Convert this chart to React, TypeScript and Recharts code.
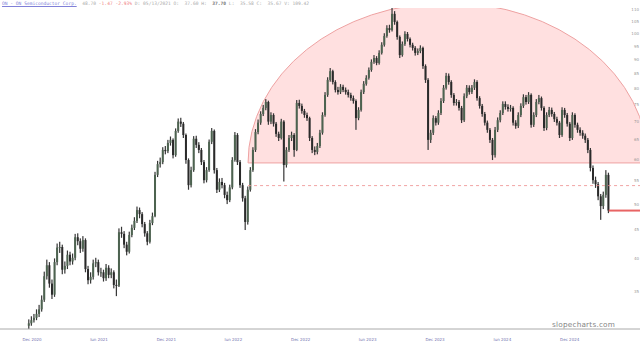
import { ComposedChart, Bar, XAxis, YAxis, ReferenceArea, ReferenceLine } from "recharts";

const DAY = 86400000;
const firstWeek = Date.parse("2020-11-23");
const firstOpen = 30.5;

// weekly candles
const closes = [
  30.8, 31.2, 31.5, 32.0, 32.6, 33.9, 37.3, 39.0, 36.2, 34.6,
  39.5, 41.9, 42.0, 38.3, 38.9, 40.7, 39.6, 40.2, 43.7, 43.0,
  41.7, 43.2, 38.4, 36.7, 37.2, 39.3, 39.5, 37.9, 37.9, 37.0,
  38.6, 37.5, 37.9, 36.0, 35.9, 44.6, 44.3, 42.4, 41.2, 44.1,
  45.4, 46.7, 48.8, 48.0, 46.1, 44.4, 42.9, 46.3, 47.6, 56.3,
  58.8, 59.3, 62.3, 62.0, 64.1, 64.9, 61.0, 67.3, 69.9, 69.3,
  66.2, 59.8, 54.0, 57.4, 65.2, 63.6, 62.3, 59.3, 55.1, 57.4,
  64.4, 67.3, 57.4, 53.0, 54.7, 54.0, 51.9, 50.8, 53.5, 59.8,
  66.2, 59.3, 54.0, 51.2, 46.5, 53.0, 57.4, 62.3, 67.0, 69.6,
  72.1, 73.9, 75.7, 69.9, 71.8, 69.3, 66.5, 65.4, 69.9, 58.6,
  62.3, 65.4, 66.2, 62.3, 75.4, 74.5, 73.0, 71.8, 70.9, 65.4,
  62.3, 61.8, 63.3, 66.8, 71.8, 77.9, 82.8, 85.8, 82.1, 79.5,
  78.8, 80.5, 79.5, 78.8, 77.9, 76.9, 76.0, 70.9, 73.3, 78.8,
  81.5, 83.5, 86.2, 89.1, 90.5, 88.7, 92.4, 95.5, 99.0, 102.2,
  101.4, 108.3, 104.8, 98.6, 91.6, 95.8, 99.8, 97.8, 95.5, 94.3,
  92.4, 93.1, 94.3, 87.6, 82.8, 64.9, 66.8, 70.9, 69.6, 72.4,
  76.0, 80.2, 84.2, 82.1, 77.9, 75.4, 75.7, 73.9, 70.3, 77.5,
  80.2, 78.8, 80.2, 82.1, 76.9, 74.5, 72.1, 69.6, 67.6, 64.9,
  61.0, 67.6, 70.3, 72.4, 75.1, 74.2, 73.6, 73.9, 69.6, 68.7,
  71.8, 74.5, 77.2, 75.7, 77.9, 69.0, 71.8, 75.7, 76.9, 73.9,
  68.1, 71.8, 73.3, 72.1, 70.6, 69.6, 66.2, 73.3, 71.8, 69.3,
  65.4, 71.8, 69.0, 67.6, 66.8, 66.0, 64.9, 62.3, 57.9, 55.1,
  54.2, 51.6, 49.6, 51.9, 56.3, 48.7,
];

const highs = [
  31.3, 31.7, 32.0, 32.6, 33.2, 34.5, 38.0, 39.9, 39.5, 36.8,
  40.1, 42.6, 42.9, 42.4, 39.6, 41.4, 41.2, 40.9, 44.3, 44.4,
  43.5, 43.9, 43.5, 38.9, 37.9, 39.9, 40.2, 39.9, 38.6, 38.3,
  39.2, 39.0, 38.5, 38.2, 36.8, 45.3, 45.6, 44.8, 42.9, 44.7,
  46.0, 47.4, 49.5, 49.3, 48.4, 46.5, 44.8, 46.9, 48.3, 57.0,
  59.6, 60.4, 63.0, 63.3, 64.9, 65.8, 65.3, 68.0, 70.8, 71.0,
  69.8, 66.6, 60.2, 58.2, 65.9, 66.0, 64.3, 62.8, 59.8, 58.1,
  65.0, 68.1, 67.7, 57.9, 55.5, 55.6, 54.5, 52.6, 54.1, 60.5,
  67.0, 66.7, 59.8, 54.5, 51.7, 53.7, 58.1, 63.0, 67.8, 70.5,
  72.9, 74.8, 76.6, 76.1, 72.6, 72.3, 69.8, 67.1, 70.7, 70.3,
  63.0, 66.2, 67.1, 66.7, 76.3, 76.4, 75.2, 73.6, 72.5, 71.3,
  65.9, 63.2, 64.1, 67.6, 72.6, 78.8, 83.7, 86.9, 86.3, 82.7,
  80.5, 81.4, 81.2, 80.3, 79.6, 78.6, 77.7, 76.5, 74.1, 79.6,
  82.4, 84.4, 87.1, 90.0, 91.6, 91.2, 93.4, 96.5, 100.1, 103.4,
  103.6, 111.0, 109.5, 105.4, 99.2, 96.8, 100.9, 100.6, 98.4, 96.3,
  95.0, 94.1, 95.3, 94.8, 88.2, 83.4, 67.6, 71.7, 71.5, 73.2,
  76.9, 81.1, 85.2, 85.0, 82.7, 78.5, 76.6, 76.3, 74.5, 78.4,
  81.1, 81.0, 81.1, 83.0, 82.7, 77.5, 75.1, 72.7, 70.2, 68.1,
  65.4, 68.4, 71.1, 73.2, 75.9, 75.9, 75.0, 74.8, 74.4, 70.3,
  72.6, 75.3, 78.1, 77.9, 78.8, 78.4, 72.6, 76.6, 77.9, 77.4,
  74.4, 72.6, 74.2, 74.0, 72.7, 71.3, 70.1, 74.1, 73.9, 72.4,
  69.8, 72.6, 72.3, 69.6, 68.3, 67.5, 66.6, 65.4, 62.8, 58.5,
  55.9, 54.7, 52.1, 52.6, 57.4, 56.8,
];

const lows = [
  30.1, 30.5, 30.9, 31.2, 31.6, 32.3, 33.6, 36.8, 35.6, 34.0,
  34.3, 39.0, 41.0, 37.6, 37.7, 38.4, 39.0, 39.1, 39.8, 42.3,
  41.0, 41.2, 37.9, 36.1, 36.2, 36.8, 38.7, 37.4, 37.2, 36.5,
  36.6, 37.0, 37.0, 35.5, 34.4, 35.7, 43.6, 41.8, 40.6, 40.9,
  43.7, 45.0, 46.3, 47.2, 45.5, 43.8, 42.3, 42.6, 45.9, 47.4,
  55.8, 58.0, 58.8, 61.2, 61.5, 63.4, 60.2, 60.6, 66.8, 68.4,
  65.4, 58.9, 53.0, 53.5, 57.0, 62.8, 61.5, 58.6, 54.4, 54.6,
  57.0, 63.8, 56.6, 52.3, 52.5, 53.3, 51.2, 50.0, 50.4, 53.1,
  59.4, 58.6, 53.4, 50.5, 45.0, 46.0, 52.6, 57.0, 61.8, 66.4,
  69.0, 71.5, 73.2, 69.0, 69.2, 68.5, 65.7, 64.6, 65.0, 54.8,
  58.0, 61.8, 64.6, 60.6, 62.0, 73.7, 72.2, 71.0, 70.1, 64.6,
  61.5, 61.0, 61.2, 62.8, 66.3, 71.3, 77.3, 82.2, 81.3, 78.7,
  78.0, 78.2, 78.8, 78.0, 77.1, 76.1, 75.2, 67.6, 70.3, 72.8,
  78.2, 80.9, 82.9, 85.6, 88.4, 87.9, 88.1, 91.8, 94.8, 98.3,
  100.3, 100.8, 103.6, 97.5, 90.5, 91.0, 95.1, 96.8, 94.5, 93.3,
  91.4, 91.6, 92.3, 86.6, 81.8, 62.3, 64.1, 66.2, 68.8, 69.0,
  71.8, 75.4, 79.6, 81.2, 77.0, 74.6, 74.6, 73.1, 69.5, 69.8,
  76.9, 78.0, 78.2, 79.5, 76.1, 73.7, 71.3, 68.8, 66.8, 64.1,
  59.8, 60.4, 67.0, 69.7, 71.8, 73.4, 72.8, 72.8, 68.8, 67.9,
  68.1, 71.2, 73.9, 74.9, 75.1, 68.2, 68.4, 71.2, 75.0, 73.1,
  67.3, 67.5, 71.2, 71.3, 69.8, 68.8, 65.4, 65.7, 71.0, 68.5,
  64.6, 64.9, 68.2, 66.8, 66.0, 65.2, 64.1, 61.5, 57.1, 54.3,
  53.4, 50.8, 46.9, 49.0, 51.3, 48.2,
];

const tickDates = [
  "2020-12-01", "2021-06-01", "2021-12-01", "2022-06-01", "2022-12-01",
  "2023-06-01", "2023-12-01", "2024-06-01", "2024-12-01",
];
const tickLabels = [
  "Dec 2020", "Jun 2021", "Dec 2021", "Jun 2022", "Dec 2022",
  "Jun 2023", "Dec 2023", "Jun 2024", "Dec 2024",
];
const priceTicks = [35, 40, 45, 50, 55, 60, 65, 70, 75, 80, 85, 90, 95, 100, 105, 110];

const xStart = Date.parse("2020-09-05");
const xEnd = Date.parse("2025-06-10");

// dome drawing + levels
const domeFrom = Date.parse("2022-07-11");
const domeTo = Date.parse("2025-07-02");
const domeBase = 59.1;
const domeTop = 113.3;
const dashedLevel = 53.9;
const lastPrice = 48.7;

const data = closes.map((c, i) => {
  const open = i === 0 ? firstOpen : closes[i - 1];
  return {
    t: firstWeek + i * 7 * DAY,
    wick: [lows[i], highs[i]],
    body: [Math.min(open, c), Math.max(open, c)],
    up: c >= open,
  };
});
const lastT = data[data.length - 1].t;
const tickTimes = tickDates.map(d => Date.parse(d));

const Wick = (p: any) => (
  <rect x={p.x + p.width / 2 - 0.6} y={p.y} width={1.2} height={Math.max(p.height, 1)} fill="#363636" />
);

const Body = (p: any) => (
  <rect
    x={p.x}
    y={p.y}
    width={p.width}
    height={Math.max(p.height, 1)}
    fill={p.payload.up ? "#4d6350" : "#2a2a2a"}
  />
);

const Dome = (p: any) => {
  const { x, y, width, height } = p;
  const base = y + height;
  const d = `M ${x} ${base} A ${width / 2} ${height} 0 0 1 ${x + width} ${base} Z`;
  return (
    <path d={d} fill="#ff0000" fillOpacity={0.12} stroke="#eea2a2" strokeWidth={1} clipPath={p.clipPath} />
  );
};

export default function App() {
  return (
    <div style={{ position: "absolute", left: 0, top: 0, width: 640, height: 341, background: "#fff" }}>
      <ComposedChart
        width={640}
        height={341}
        data={data}
        margin={{ top: 8, right: 0, left: 0, bottom: 0 }}
        barGap={-2}
        barCategoryGap={0}
      >
        <XAxis
          dataKey="t"
          type="number"
          domain={[xStart, xEnd]}
          allowDataOverflow
          ticks={tickTimes}
          interval={0}
          tickFormatter={(v: number) => tickLabels[tickTimes.indexOf(v)] ?? ""}
          height={12}
          tickLine={false}
          tickMargin={3}
          axisLine={{ stroke: "#aaaaaa" }}
          tick={{ fontSize: 4, fill: "#7373b0", fontFamily: "DejaVu Sans" }}
        />
        <YAxis
          orientation="right"
          mirror
          scale="log"
          domain={[30.1, 110.9]}
          allowDataOverflow
          ticks={priceTicks}
          interval={0}
          tickLine={false}
          axisLine={false}
          tickSize={0}
          tickMargin={1}
          tick={{ fontSize: 4, fill: "#999999", fontFamily: "DejaVu Sans" }}
        />
        <ReferenceArea
          x1={domeFrom}
          x2={domeTo}
          y1={domeBase}
          y2={domeTop}
          ifOverflow="hidden"
          shape={Dome}
        />
        <ReferenceLine
          segment={[{ x: domeFrom, y: dashedLevel }, { x: xEnd, y: dashedLevel }]}
          stroke="#ec8c8c"
          strokeOpacity={0.8}
          strokeDasharray="3 3"
          ifOverflow="visible"
        />
        <Bar dataKey="wick" barSize={2} shape={Wick} isAnimationActive={false} />
        <Bar dataKey="body" barSize={2} shape={Body} isAnimationActive={false} />
        <ReferenceLine
          segment={[{ x: lastT, y: lastPrice }, { x: xEnd, y: lastPrice }]}
          stroke="#e86464"
          strokeWidth={2}
          ifOverflow="visible"
        />
      </ComposedChart>
      <div
        style={{
          position: "absolute",
          left: 2,
          top: 2,
          fontFamily: "DejaVu Sans Mono",
          fontSize: 4.6,
          whiteSpace: "pre",
          color: "#aaaaaa",
          lineHeight: 1,
        }}
      >
        <span style={{ color: "#8080d8", textDecoration: "underline" }}>ON - ON Semiconductor Corp.</span>
        <span>  48.70 </span>
        <span style={{ color: "#f08080" }}>-1.47 -2.93%</span>
        <span> D: 05/13/2021 O:  37.60 H:  </span>
        <span style={{ color: "#777777", fontWeight: "bold" }}>37.70</span>
        <span> L:  35.58 C:  35.67 V: 109.42</span>
      </div>
      <div
        style={{
          position: "absolute",
          left: 552,
          top: 320,
          fontFamily: "DejaVu Sans",
          fontSize: 7.3,
          color: "#858585",
          letterSpacing: 0.2,
        }}
      >
        slopecharts.com
      </div>
    </div>
  );
}
